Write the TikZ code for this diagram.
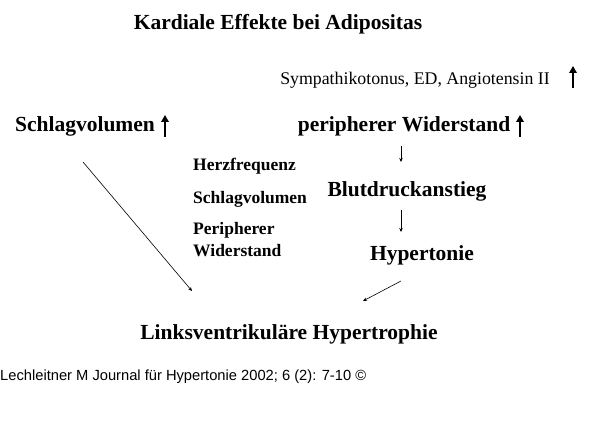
\documentclass[tikz,border=0pt]{standalone}
\usepackage{fontspec}
\setmainfont{Liberation Serif}
\newfontfamily\footfont{Liberation Sans}
\usetikzlibrary{arrows.meta}
\begin{document}
\begin{tikzpicture}[x=1pt,y=-1pt,
  lbl/.style={font=\bfseries\fontsize{21.5}{23}\selectfont, inner sep=0pt},
  sm/.style={font=\bfseries\fontsize{17.5}{20}\selectfont, inner sep=0pt, anchor=west},
  thin arrow/.style={-{Stealth[length=4pt,width=3.5pt]}, line width=0.6pt},
  bigup/.style={line width=2.6pt, -{Triangle[length=7pt,width=7.5pt]}}]
\useasboundingbox (0,0) rectangle (600,422);
\node[lbl] (title) at (278,24) {Kardiale Effekte bei Adipositas};
\node[inner sep=0pt, font=\fontsize{17.8}{19}\selectfont] (sym) at (415,80) {Sympathikotonus, ED, Angiotensin II};
\coordinate (a1s) at (573,88); \coordinate (a1e) at (573,66);
\draw[bigup] (a1s) -- (a1e);
\node[lbl] (sv) at (85,126) {Schlagvolumen};
\coordinate (a2s) at (165,137); \coordinate (a2e) at (165,115);
\draw[bigup] (a2s) -- (a2e);
\node[lbl] (pw) at (404,126) {peripherer Widerstand};
\coordinate (a3s) at (520,137); \coordinate (a3e) at (520,115);
\draw[bigup] (a3s) -- (a3e);
\node[sm] (hf) at (193,166) {Herzfrequenz};
\node[sm] (sv2) at (193,199) {Schlagvolumen};
\node[sm] (pw2) at (193,230) {Peripherer};
\node[sm] (pw3) at (193,251) {Widerstand};
\node[lbl] (bd) at (407,191) {Blutdruckanstieg};
\node[lbl] (ht) at (422,255) {Hypertonie};
\node[lbl] (lv) at (289,334) {Linksventrikuläre Hypertrophie};
\node[inner sep=0pt, anchor=west, font=\footfont\fontsize{14.7}{16}\selectfont] (ft) at (0,377) {Lechleitner M Journal für Hypertonie 2002; 6 (2): 7-10 ©};
\draw[thin arrow] (401,146) -- (401,162);
\draw[thin arrow] (401,210) -- (401,232);
\draw[thin arrow] (83,162) -- (192,291);
\draw[thin arrow] (401,281) -- (363,301);
\end{tikzpicture}
\end{document}
